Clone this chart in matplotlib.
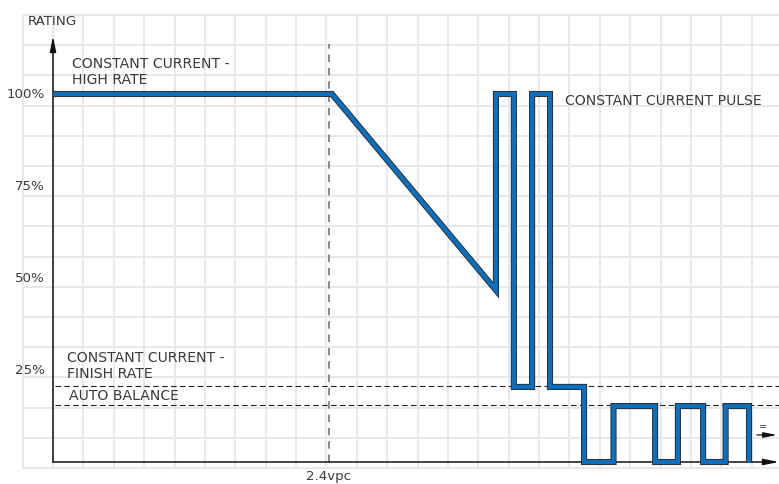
import matplotlib.pyplot as plt
import matplotlib.patheffects as pe
import numpy as np

# charge profile (x in grid cells from the y axis, y in % of rating)
x_profile = [0, 9.18, 14.58, 14.58, 15.17, 15.17, 15.77, 15.77, 16.36, 16.36,
             17.48, 17.48, 18.45, 18.45, 19.82, 19.82, 20.57, 20.57, 21.40, 21.40,
             22.14, 22.14, 22.91, 22.91]
y_profile = [100, 100, 46.7, 100, 100, 20.4, 20.4, 100, 100, 20.4,
             20.4, 0, 0, 15.2, 15.2, 0, 0, 15.2, 15.2, 0,
             0, 15.2, 15.2, 0]

ytick_vals = [25, 50, 75, 100]
ytick_labels = ['25%', '50%', '75%', '100%']
finish_level = 20.7
balance_level = 15.6
x_24vpc = 9.08

# pixel -> data helpers (axes fill the whole figure)
def px_x(p):
    return (p - 53) / 30.38

def px_y(p):
    return (463 - p) / 3.68

fig = plt.figure(figsize=(7.79, 4.85), dpi=100)
ax = fig.add_axes([0, 0, 1, 1])
ax.set_xlim(px_x(0), px_x(779))
ax.set_ylim(px_y(485), px_y(0))
ax.axis('off')

txt = '#3a3a3a'
gridc = '#e8e8e8'
fs = 9.6
fs_note = 10.1

# background grid
gx = np.arange(-1, 24)
gy = px_y(16 + 30.2 * np.arange(16))
ax.vlines(gx, px_y(469), px_y(16), color=gridc, lw=1.5, zorder=0)
ax.hlines(gy, px_x(22), px_x(779), color=gridc, lw=1.5, zorder=0)

# reference dashed lines
ax.plot([x_24vpc, x_24vpc], [0, px_y(45)], color='#777777', lw=1.2,
        dashes=(4.5, 3.5), zorder=2)
for lvl in [finish_level, balance_level]:
    ax.plot([0.05, px_x(779)], [lvl, lvl], color='#222222', lw=0.8,
            dashes=(5, 3), zorder=2)

# axes with arrows
ax.annotate('', xy=(0, px_y(37)), xytext=(0, 0),
            arrowprops=dict(arrowstyle='-|>,head_length=0.9,head_width=0.18',
                            color='#111111', lw=1.1, shrinkA=0, shrinkB=0), zorder=3)
ax.annotate('', xy=(px_x(779), 0), xytext=(0, 0),
            arrowprops=dict(arrowstyle='-|>,head_length=0.9,head_width=0.18',
                            color='#111111', lw=1.1, shrinkA=0, shrinkB=0), zorder=3)
ax.annotate('', xy=(px_x(777), px_y(436)), xytext=(px_x(757), px_y(436)),
            arrowprops=dict(arrowstyle='-|>,head_length=0.8,head_width=0.16',
                            color='#111111', lw=0.9, shrinkA=0, shrinkB=0), zorder=3)
ax.text(px_x(763), px_y(427), '=', fontsize=7, color=txt, ha='center', va='center')

# profile line with thin dark outline
ax.plot(x_profile, y_profile, color='#0a6fbe', lw=3.1, solid_joinstyle='miter',
        solid_capstyle='butt', zorder=4,
        path_effects=[pe.Stroke(linewidth=4.4, foreground='#2b2b2b'), pe.Normal()])

# tick labels
for v, lab in zip(ytick_vals, ytick_labels):
    ax.text(px_x(45), v, lab, fontsize=fs, color=txt, ha='right', va='center')
ax.text(x_24vpc, px_y(477), '2.4vpc', fontsize=fs, color=txt, ha='center', va='center')
ax.text(px_x(28), px_y(21.5), 'RATING', fontsize=fs, color=txt, ha='left', va='center')

# annotations
ax.text(px_x(72), px_y(64), 'CONSTANT CURRENT -', fontsize=fs_note, color=txt, va='center')
ax.text(px_x(72), px_y(80.5), 'HIGH RATE', fontsize=fs_note, color=txt, va='center')
ax.text(px_x(565), px_y(101), 'CONSTANT CURRENT PULSE', fontsize=fs_note, color=txt, va='center')
ax.text(px_x(67), px_y(358), 'CONSTANT CURRENT -', fontsize=fs_note, color=txt, va='center')
ax.text(px_x(67), px_y(374.5), 'FINISH RATE', fontsize=fs_note, color=txt, va='center')
ax.text(px_x(69), px_y(396), 'AUTO BALANCE', fontsize=fs_note, color=txt, va='center')

fig.savefig('out.png', dpi=100)
